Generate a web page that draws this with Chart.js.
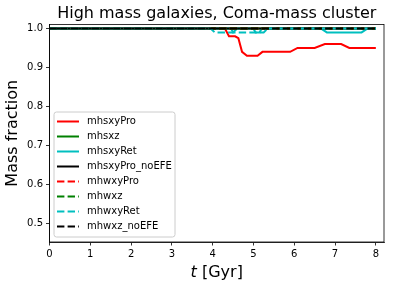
<!DOCTYPE html>
<html>
<head>
<meta charset="utf-8">
<script src="https://cdn.jsdelivr.net/npm/chart.js@4"></script>
<style>
  body { margin: 0; background: #fff; }
  canvas { display: block; }
</style>
</head>
<body>
<canvas id="massChart" width="394" height="289"></canvas>
<script>
// Series names, in the order they were plotted
const seriesNames = ['mhsxyPro', 'mhsxz', 'mhsxyRet', 'mhsxyPro_noEFE',
                     'mhwxyPro', 'mhwxz', 'mhwxyRet', 'mhwxz_noEFE'];

// time [Gyr] and mass fraction for each series
const tFlat = [0, 8.0];
const vFlat = [1.0, 1.0];

const tSxyPro = [0, 4.3, 4.4, 4.55, 4.63, 4.72, 4.84, 5.1, 5.22, 5.9, 6.08, 6.5, 6.75, 7.15, 7.35, 8.0];
const vSxyPro = [1.0, 1.0, 0.98, 0.98, 0.975, 0.94, 0.93, 0.93, 0.94, 0.94, 0.95, 0.95, 0.96, 0.96, 0.95, 0.95];

const tSxyRet = [0, 4.45, 4.5, 4.6, 5.0, 5.05, 5.15, 5.2, 6.65, 6.8, 7.65, 7.8, 8.0];
const vSxyRet = [1.0, 1.0, 0.99, 1.0, 1.0, 0.99, 0.99, 1.0, 1.0, 0.99, 0.99, 1.0, 1.0];

const tWxyRet = [0, 3.95, 4.05, 5.25, 5.35, 8.0];
const vWxyRet = [1.0, 1.0, 0.99, 0.99, 1.0, 1.0];

const xTicks = [0, 1, 2, 3, 4, 5, 6, 7, 8];
const yTicks = [0.5, 0.6, 0.7, 0.8, 0.9, 1.0];

const FONT = "'DejaVu Sans', sans-serif";

function pts(ts, vs) {
    return ts.map((t, i) => ({ x: t, y: vs[i] }));
}

const seriesData = [
    pts(tSxyPro, vSxyPro), pts(tFlat, vFlat), pts(tSxyRet, vSxyRet), pts(tFlat, vFlat),
    pts(tFlat, vFlat), pts(tFlat, vFlat), pts(tWxyRet, vWxyRet), pts(tFlat, vFlat)
];
const seriesColors = ['#ff0000', '#008000', '#00bfbf', '#000000',
                      '#ff0000', '#008000', '#00bfbf', '#000000'];

const datasets = seriesNames.map((name, i) => ({
    label: name,
    data: seriesData[i],
    borderColor: seriesColors[i],
    backgroundColor: seriesColors[i],
    borderWidth: 2,
    borderDash: i >= 4 ? [7.4, 3.2] : [],
    pointRadius: 0,
    tension: 0,
    fill: false,
    order: 8 - i  // first series drawn first, like matplotlib
}));

// frame around plot area + x axis label with italic t
const framePlugin = {
    id: 'frame',
    afterDraw(chart) {
        const { ctx, chartArea: a } = chart;
        ctx.save();
        ctx.strokeStyle = '#000';
        ctx.lineWidth = 0.8;
        ctx.strokeRect(a.left, a.top, a.right - a.left, a.bottom - a.top);

        // x label
        ctx.fillStyle = '#000';
        ctx.textBaseline = 'alphabetic';
        const it = 'italic 16px ' + FONT;
        const rest = '16px ' + FONT;
        ctx.font = it;
        const w1 = ctx.measureText('t').width;
        ctx.font = rest;
        const w2 = ctx.measureText(' [Gyr]').width;
        const x0 = (a.left + a.right) / 2 - (w1 + w2) / 2;
        ctx.font = it;
        ctx.textAlign = 'left';
        ctx.fillText('t', x0, 277);
        ctx.font = rest;
        ctx.fillText(' [Gyr]', x0 + w1, 277);

        // legend in lower left of plot
        const bx = a.left + 4.5, bh = 125, bw = 121;
        const by = a.bottom - 5 - bh;
        ctx.fillStyle = 'rgba(255,255,255,0.8)';
        ctx.strokeStyle = '#cccccc';
        ctx.lineWidth = 1;
        ctx.beginPath();
        ctx.roundRect(bx, by, bw, bh, 2.5);
        ctx.fill();
        ctx.stroke();
        ctx.font = '10px ' + FONT;
        ctx.textBaseline = 'middle';
        chart.data.datasets.forEach((ds, i) => {
            const y = by + 9.5 + i * 15;
            ctx.strokeStyle = ds.borderColor;
            ctx.lineWidth = 2;
            ctx.setLineDash(ds.borderDash);
            ctx.beginPath();
            ctx.moveTo(bx + 3, y);
            ctx.lineTo(bx + 25, y);
            ctx.stroke();
            ctx.setLineDash([]);
            ctx.fillStyle = '#000';
            ctx.fillText(ds.label, bx + 33, y);
        });
        ctx.restore();
    }
};

const ctx = document.getElementById('massChart').getContext('2d');
new Chart(ctx, {
    type: 'line',
    data: { datasets: datasets },
    options: {
        responsive: false,
        animation: false,
        devicePixelRatio: 1,
        layout: { padding: { left: 0, right: 10, top: 0, bottom: 0 } },
        plugins: {
            legend: { display: false },
            tooltip: { enabled: false },
            title: {
                display: true,
                text: 'High mass galaxies, Coma-mass cluster',
                fullSize: false,
                color: '#000',
                font: { family: FONT, size: 16, weight: 'normal', lineHeight: 1.2 },
                padding: { top: 4, bottom: 1.3 }
            }
        },
        scales: {
            x: {
                type: 'linear',
                min: 0,
                max: 8.2,
                afterFit: (s) => { s.height = 47; },
                afterBuildTicks: (s) => { s.ticks = xTicks.map(v => ({ value: v })); },
                ticks: {
                    color: '#000',
                    font: { family: FONT, size: 10 },
                    padding: 3,
                    maxRotation: 0,
                    callback: (v) => String(v)
                },
                grid: { drawOnChartArea: false, drawTicks: true, tickLength: 3.5, color: '#000', lineWidth: 0.8 },
                border: { display: true, color: '#000', width: 0.8 }
            },
            y: {
                type: 'linear',
                min: 0.4515,
                max: 1.0103,
                afterFit: (s) => { s.width = 49.5; },
                afterBuildTicks: (s) => { s.ticks = yTicks.map(v => ({ value: v })); },
                ticks: {
                    color: '#000',
                    font: { family: FONT, size: 10 },
                    padding: 3,
                    callback: (v) => v.toFixed(1)
                },
                title: {
                    display: true,
                    text: 'Mass fraction',
                    color: '#000',
                    font: { family: FONT, size: 16, lineHeight: 1.2 },
                    padding: { top: 3, bottom: 0 }
                },
                grid: { drawOnChartArea: false, drawTicks: true, tickLength: 3.5, color: '#000', lineWidth: 0.8 },
                border: { display: true, color: '#000', width: 0.8 }
            }
        }
    },
    plugins: [framePlugin]
});
</script>
</body>
</html>
